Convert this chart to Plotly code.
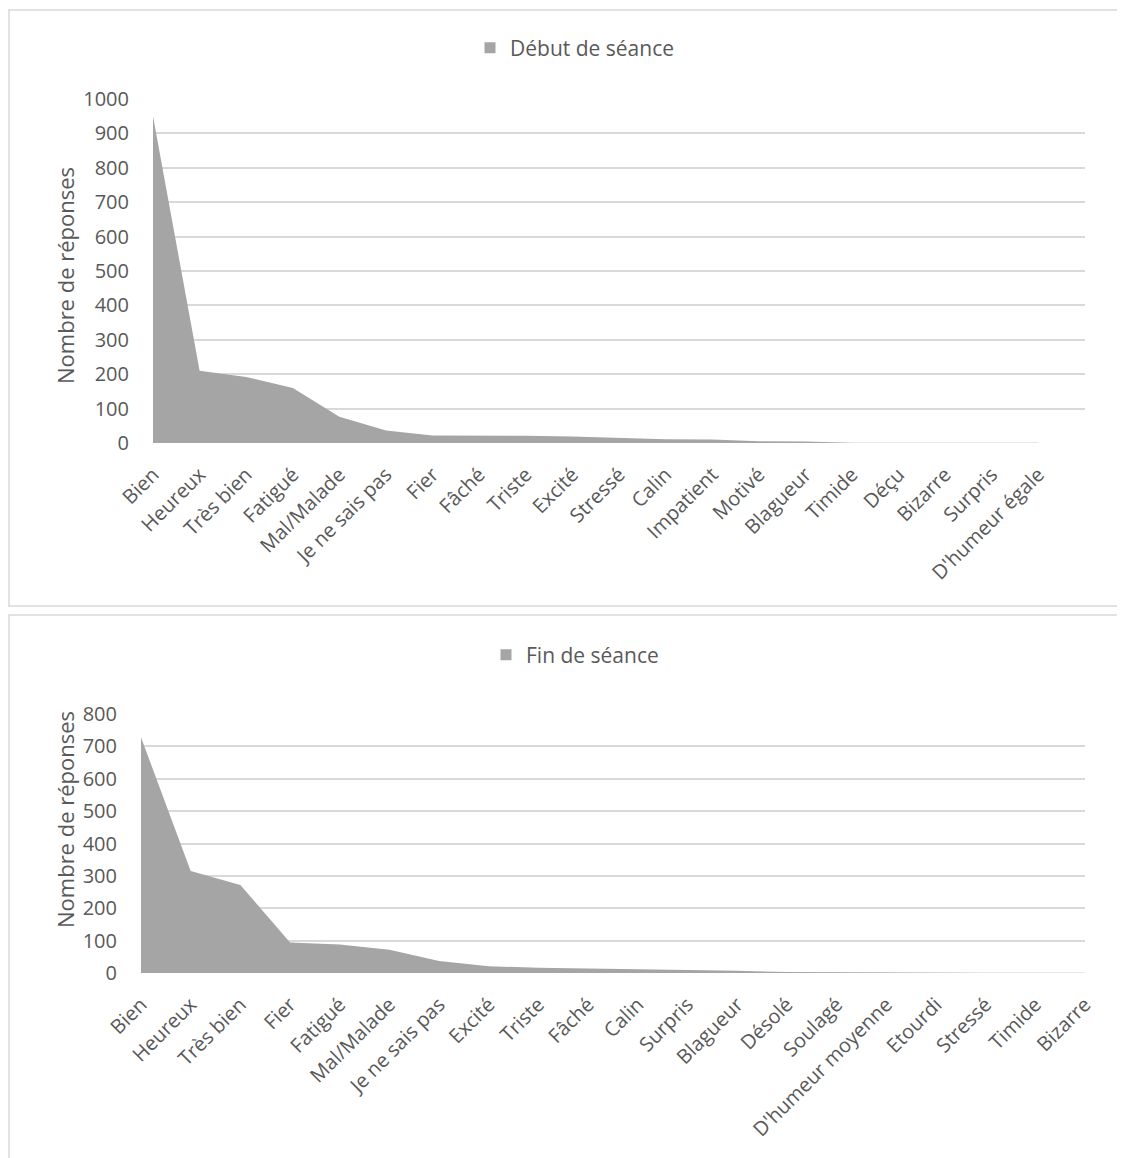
import plotly.graph_objects as go

# ---- Data ----
debut_labels = ["Bien", "Heureux", "Très bien", "Fatigué", "Mal/Malade", "Je ne sais pas",
                "Fier", "Fâché", "Triste", "Excité", "Stressé", "Calin", "Impatient",
                "Motivé", "Blagueur", "Timide", "Déçu", "Bizarre", "Surpris", "D'humeur égale"]
debut_values = [950, 210, 192, 160, 76, 36, 22, 22, 21, 19, 15, 11, 10, 5, 4, 1, 1, 1, 0.5, 0.5]

fin_labels = ["Bien", "Heureux", "Très bien", "Fier", "Fatigué", "Mal/Malade", "Je ne sais pas",
              "Excité", "Triste", "Fâché", "Calin", "Surpris", "Blagueur", "Désolé", "Soulagé",
              "D'humeur moyenne", "Etourdi", "Stressé", "Timide", "Bizarre"]
fin_values = [728, 315, 272, 94, 88, 72, 37, 21, 16, 14, 12, 8, 7, 3, 2, 1, 1, 0.5, 0.5, 0.5]

debut_ticks = [0, 100, 200, 300, 400, 500, 600, 700, 800, 900, 1000]
fin_ticks = [0, 100, 200, 300, 400, 500, 600, 700, 800]

W, H = 1125, 1158
OFF = 8  # page body margin
def px(x): return (x - OFF) / W
def py(y): return 1 - (y - OFF) / H

FONT = "Open Sans"
TXT = "#595959"
GRID = "#d9d9d9"
AREA = "#a5a5a5"

fig = go.Figure()

# area series
fig.add_trace(go.Scatter(
    x=list(range(len(debut_labels))), y=debut_values, mode="lines",
    fill="tozeroy", fillcolor=AREA, line=dict(width=0, color=AREA),
    name="Début de séance", xaxis="x", yaxis="y", showlegend=False,
))
fig.add_trace(go.Scatter(
    x=list(range(len(fin_labels))), y=fin_values, mode="lines",
    fill="tozeroy", fillcolor=AREA, line=dict(width=0, color=AREA),
    name="Fin de séance", xaxis="x2", yaxis="y2", showlegend=False,
))
# legend entries (square swatch as in the original)
fig.add_trace(go.Scatter(
    x=[None], y=[None], mode="markers", marker=dict(symbol="square", size=11, color=AREA),
    name="Début de séance", xaxis="x", yaxis="y", legend="legend",
))
fig.add_trace(go.Scatter(
    x=[None], y=[None], mode="markers", marker=dict(symbol="square", size=11, color=AREA),
    name="Fin de séance", xaxis="x2", yaxis="y2", legend="legend2",
))

axis_common = dict(showline=False, zeroline=False, ticks="", fixedrange=True, automargin=False)
xtick_font = dict(size=20, color=TXT, family=FONT)
ytick_font = dict(size=20, color=TXT, family=FONT)

fig.update_layout(
    template="none",
    width=W, height=H,
    autosize=False,
    margin=dict(l=0, r=0, t=0, b=0, pad=0, autoexpand=False),
    paper_bgcolor="white", plot_bgcolor="white",
    font=dict(family=FONT, color=TXT),
    xaxis=dict(domain=[px(153), px(1085)], range=[0, 20], anchor="y",
               tickvals=list(range(len(debut_labels))), ticktext=debut_labels,
               tickangle=-45, tickfont=xtick_font, ticklabelstandoff=15,
               showgrid=False, **axis_common),
    yaxis=dict(domain=[py(443), py(99)], range=[0, 1000], anchor="x",
               tickvals=debut_ticks, tickfont=ytick_font, ticklabelstandoff=23,
               showgrid=True, gridcolor=GRID, gridwidth=1.5,
               **axis_common),
    xaxis2=dict(domain=[px(141), px(1085)], range=[0, 19], anchor="y2",
                tickvals=list(range(len(fin_labels))), ticktext=fin_labels,
                tickangle=-45, tickfont=xtick_font, ticklabelstandoff=15,
                showgrid=False, **axis_common),
    yaxis2=dict(domain=[py(973), py(714)], range=[0, 800], anchor="x2",
                tickvals=fin_ticks, tickfont=ytick_font, ticklabelstandoff=23,
                showgrid=True, gridcolor=GRID, gridwidth=1.5,
                **axis_common),
    legend=dict(x=px(470), y=py(48), xanchor="left", yanchor="middle",
                orientation="h", font=dict(size=21, color=TXT, family=FONT),
                bgcolor="rgba(0,0,0,0)", itemwidth=30),
    legend2=dict(x=px(486), y=py(655), xanchor="left", yanchor="middle",
                 orientation="h", font=dict(size=21, color=TXT, family=FONT),
                 bgcolor="rgba(0,0,0,0)", itemwidth=30),
    showlegend=True,
    annotations=[
        dict(text="Nombre de réponses", xref="paper", yref="paper", x=px(65), y=py(276),
             textangle=-90, showarrow=False, xanchor="center", yanchor="middle",
             font=dict(size=22, color=TXT, family=FONT)),
        dict(text="Nombre de réponses", xref="paper", yref="paper", x=px(65), y=py(820),
             textangle=-90, showarrow=False, xanchor="center", yanchor="middle",
             font=dict(size=22, color=TXT, family=FONT)),
    ],
    shapes=[
        dict(type="rect", xref="paper", yref="paper", x0=px(9), x1=px(1150), y0=py(606), y1=py(10),
             line=dict(color=GRID, width=1.5), fillcolor="rgba(0,0,0,0)", layer="below"),
        dict(type="rect", xref="paper", yref="paper", x0=px(9), x1=px(1150), y0=py(1180), y1=py(615),
             line=dict(color=GRID, width=1.5), fillcolor="rgba(0,0,0,0)", layer="below"),
    ],
)

fig.write_html("out.html")
